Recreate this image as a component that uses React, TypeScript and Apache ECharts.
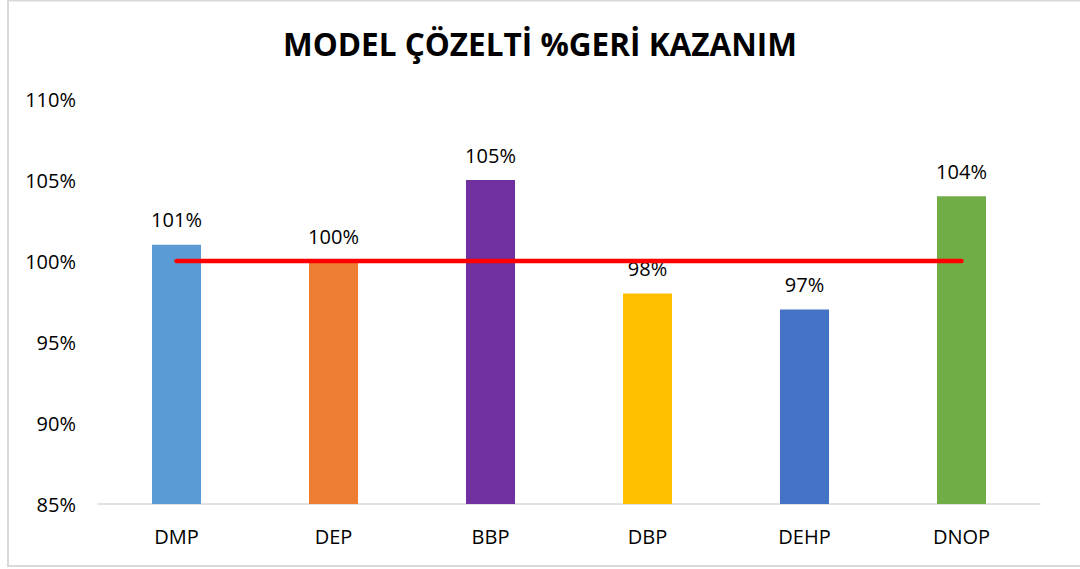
import React, { useEffect, useRef } from "react";
import * as echarts from "echarts";

const categories = ["DMP", "DEP", "BBP", "DBP", "DEHP", "DNOP"];
const recoveryValues = [101, 100, 105, 98, 97, 104];
const referenceValues = [100, 100, 100, 100, 100, 100];
const barColors = ["#5B9BD5", "#ED7D31", "#7030A0", "#FFC000", "#4472C4", "#70AD47"];
const yTicks = { min: 85, max: 110, interval: 5 };
const titleText = "MODEL ÇÖZELTİ %GERİ KAZANIM";

export default function App() {
  const ref = useRef<HTMLDivElement>(null);
  useEffect(() => {
    if (!ref.current) return;
    const chart = echarts.init(ref.current, undefined, { renderer: "svg" });
    const font = "'Open Sans', 'Liberation Sans', sans-serif";
    chart.setOption({
      animation: false,
      backgroundColor: "#ffffff",
      textStyle: { fontFamily: font },
      title: {
        text: titleText,
        left: "center",
        top: 22,
        textStyle: { fontFamily: font, fontWeight: "bold", fontSize: 31.5, color: "#000000" },
      },
      graphic: [
        {
          type: "rect",
          shape: { x: 8, y: 0.5, width: 1100, height: 565.5 },
          style: { fill: "none", stroke: "#d9d9d9", lineWidth: 2 },
          silent: true,
        },
      ],
      grid: { left: 98, right: 40, top: 99, bottom: 65, containLabel: false },
      xAxis: {
        type: "category",
        data: categories,
        axisLine: { show: true, lineStyle: { color: "#d9d9d9", width: 1.5 } },
        axisTick: { show: false },
        axisLabel: { color: "#000000", fontSize: 20, margin: 22, fontFamily: font },
      },
      yAxis: {
        type: "value",
        min: yTicks.min,
        max: yTicks.max,
        interval: yTicks.interval,
        axisLine: { show: false },
        axisTick: { show: false },
        splitLine: { show: false },
        axisLabel: {
          color: "#000000",
          fontSize: 20,
          margin: 22,
          fontFamily: font,
          formatter: (v: number) => `${v}%`,
        },
      },
      series: [
        {
          type: "bar",
          data: recoveryValues.map((v, i) => ({ value: v, itemStyle: { color: barColors[i] } })),
          barWidth: 49,
          label: {
            show: true,
            position: "top",
            distance: 15,
            color: "#000000",
            fontSize: 20,
            fontFamily: font,
            formatter: (p: any) => `${p.value}%`,
          },
        },
        {
          type: "line",
          data: referenceValues,
          symbol: "none",
          lineStyle: { color: "#FF0000", width: 4.5, cap: "round" },
          z: 5,
        },
      ],
    });
    return () => chart.dispose();
  }, []);
  return (
    <div
      ref={ref}
      style={{ position: "absolute", left: 0, top: 0, width: 1080, height: 569 }}
    />
  );
}
